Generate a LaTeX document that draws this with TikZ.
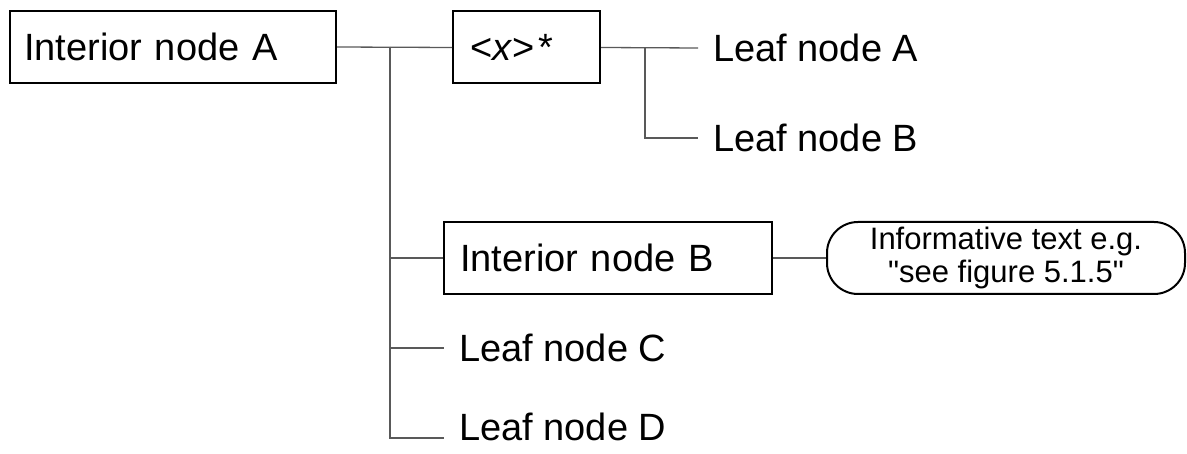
\documentclass[tikz,border=0pt]{standalone}
\usepackage{fontspec}
\setmainfont{Liberation Sans}
\newfontfamily\plainsans{Liberation Sans}[Ligatures=TeXOff]
\begin{document}
\begin{tikzpicture}[x=1pt,y=-1pt,
  box/.style={draw=black,line width=2pt,minimum height=72pt,align=left,inner ysep=0pt,font=\fontsize{38}{44}\selectfont},
  leaf/.style={anchor=west,inner xsep=15pt,inner ysep=0pt,font=\fontsize{38}{44}\selectfont},
  conn/.style={draw=black!65,line width=1.3pt},
  info/.style={draw=black,line width=2pt,rounded corners=31pt,minimum width=358pt,minimum height=72pt,align=center,inner sep=0pt,font=\plainsans\fontsize{31}{33}\selectfont}]
\useasboundingbox (0,0) rectangle (1187,454);
\node[box,text width=298pt,inner xsep=14pt] (A) at (173,47) {Interior node A};
\node[box,text width=113pt,inner xsep=17pt] (X) at (526.5,47.5) {<\textit{x}>\hspace{4pt}*};
\node[box,text width=296pt,inner xsep=16pt] (B) at (608,258) {Interior node B};
\node[info] (I) at (1006,258) {Informative text e.g.\\"see figure 5.1.5"};
\node[leaf] (LA) at (698,48) {Leaf node A};
\node[leaf] (LB) at (698,138) {Leaf node B};
\node[leaf] (LC) at (444,348) {Leaf node C};
\node[leaf] (LD) at (444,427) {Leaf node D};
\coordinate (j1) at (390,47);
\coordinate (j2) at (645,48);
\coordinate (ld) at (444,438);
\draw[conn] (A.east) -- (X.west);
\draw[conn] (j1) |- (B.west);
\draw[conn] (j1) |- (LC.west);
\draw[conn] (j1) |- (ld);
\draw[conn] (X.east) -- (LA.west);
\draw[conn] (j2) |- (LB.west);
\draw[conn] (B.east) -- (I.west);
\end{tikzpicture}
\end{document}
